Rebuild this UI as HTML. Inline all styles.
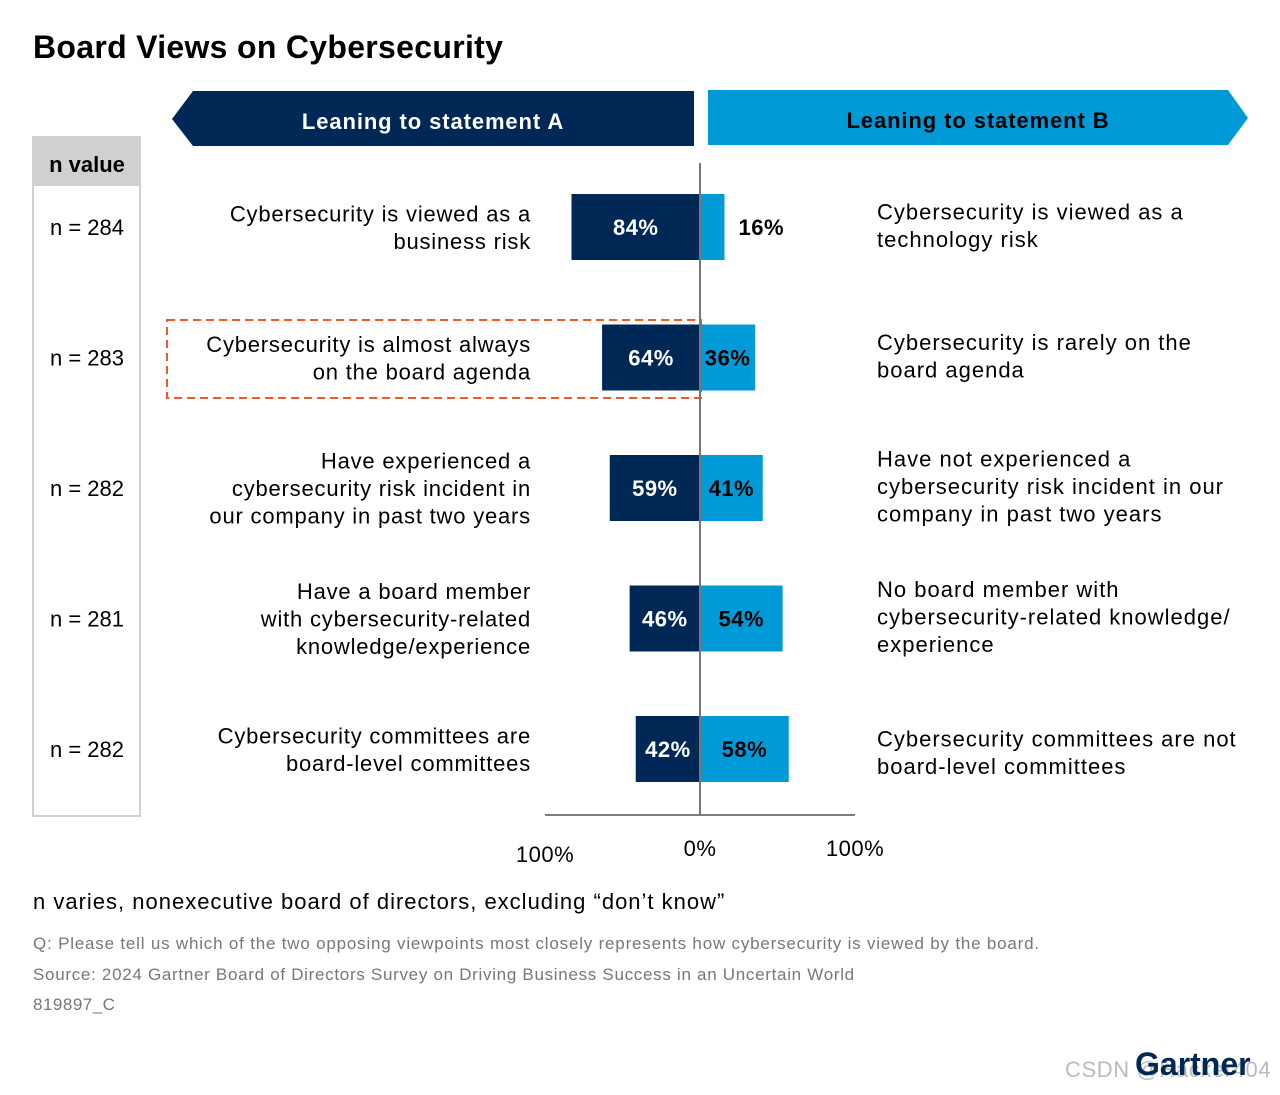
<!DOCTYPE html>
<html><head><meta charset="utf-8"><style>
body{margin:0;background:#fff;width:1280px;height:1090px;overflow:hidden;font-family:"Liberation Sans",sans-serif}
svg text{font-family:"Liberation Sans",sans-serif}
</style></head><body>
<svg id="chart" width="1280" height="1090" xmlns="http://www.w3.org/2000/svg">
<text x="33" y="58" font-size="32" font-weight="bold" letter-spacing="0.3" fill="#000">Board Views on Cybersecurity</text>
<polygon points="193,91 694,91 694,146 193,146 172,119" fill="#002856"/>
<text x="433" y="129" font-size="22" font-weight="bold" letter-spacing="0.9" fill="#fff" text-anchor="middle">Leaning to statement A</text>
<polygon points="708,90 1228,90 1248,118 1228,145 708,145" fill="#009ad9"/>
<text x="978" y="128" font-size="22" font-weight="bold" letter-spacing="0.9" fill="#000" text-anchor="middle">Leaning to statement B</text>
<rect x="33" y="137" width="107" height="679" fill="#fff" stroke="#d0d0d0" stroke-width="2"/>
<rect x="33" y="137" width="107" height="49" fill="#d0d0d0"/>
<text x="87" y="172" font-size="22" font-weight="bold" text-anchor="middle">n value</text>
<rect x="167" y="320" width="534" height="78" fill="none" stroke="#f05a28" stroke-width="2" stroke-dasharray="8,5"/>
<g id="bars"></g>
<line x1="545" y1="815" x2="855" y2="815" stroke="#555" stroke-width="1.5"/>
<line x1="700" y1="163" x2="700" y2="815" stroke="#777" stroke-width="2"/>
<g id="ticks"></g>
<text x="33" y="909" font-size="22" letter-spacing="1" fill="#000">n varies, nonexecutive board of directors, excluding “don’t know”</text>
<text x="33" y="949" font-size="17" letter-spacing="0.8" fill="#777">Q: Please tell us which of the two opposing viewpoints most closely represents how cybersecurity is viewed by the board.</text>
<text x="33" y="980" font-size="17" letter-spacing="0.7" fill="#777">Source: 2024 Gartner Board of Directors Survey on Driving Business Success in an Uncertain World</text>
<text x="33" y="1010" font-size="17" letter-spacing="0.5" fill="#777">819897_C</text>
<text x="1065" y="1077" font-size="22" fill="#bbb" letter-spacing="0.6">CSDN @Hacker404</text>
<text x="1135" y="1075" font-size="32" font-weight="bold" fill="#002856">Gartner</text>
</svg>
<script>
const nValues=["n = 284","n = 283","n = 282","n = 281","n = 282"];
const valuesA=[84,64,59,46,42];
const valuesB=[16,36,41,54,58];
const labelsA=[["Cybersecurity is viewed as a","business risk"],["Cybersecurity is almost always","on the board agenda"],["Have experienced a","cybersecurity risk incident in","our company in past two years"],["Have a board member","with cybersecurity-related","knowledge/experience"],["Cybersecurity committees are","board-level committees"]];
const labelsB=[["Cybersecurity is viewed as a","technology risk"],["Cybersecurity is rarely on the","board agenda"],["Have not experienced a","cybersecurity risk incident in our","company in past two years"],["No board member with","cybersecurity-related knowledge/","experience"],["Cybersecurity committees are not","board-level committees"]];
const tickVals=[-100,0,100];
const tickLabels=["100%","0%","100%"];
const NS="http://www.w3.org/2000/svg";
const cx=700, scale=1.53;
function x(v){return cx+v*scale;}
function rowY(i){return 227+i*130.5;}
function mk(tag,attrs,parent){const e=document.createElementNS(NS,tag);for(const k in attrs)e.setAttribute(k,attrs[k]);parent.appendChild(e);return e;}
const g=document.getElementById('bars');
valuesA.forEach((a,i)=>{
 const y=rowY(i), b=valuesB[i];
 const ra=mk('rect',{x:x(-a),y:y-33,width:x(0)-x(-a),height:66,fill:'#002856'},g);
 
 
 const rb=mk('rect',{x:x(0),y:y-33,width:x(b)-x(0),height:66,fill:'#009ad9'},g);
 
 
 const ta=mk('text',{x:(x(-a)+x(0))/2,y:y+8,'font-size':22,'font-weight':'bold','letter-spacing':0.5,fill:'#fff','text-anchor':'middle'},g);
 ta.textContent=a+'%';
 
 
 const wb=x(b)-x(0);
 const tb=mk('text',{x:wb<45?x(b)+14:(x(0)+x(b))/2,y:y+8,'font-size':22,'font-weight':'bold','letter-spacing':0.5,fill:'#000','text-anchor':wb<45?'start':'middle'},g);
 tb.textContent=b+'%';
 
 
 const n=mk('text',{x:87,y:y+8,'font-size':22,'text-anchor':'middle'},g);
 n.textContent=nValues[i];
 
 
 const la=labelsA[i], lb=labelsB[i];
 la.forEach((s,j)=>{const t=mk('text',{x:531,y:y+8+(j-(la.length-1)/2)*27.5,'font-size':22,'letter-spacing':0.8,'text-anchor':'end'},g);t.textContent=s;
  
  });
 lb.forEach((s,j)=>{const t=mk('text',{x:877,y:y+(i==4?3:-2)+8+(j-(lb.length-1)/2)*27.5,'font-size':22,'letter-spacing':1,'text-anchor':'start'},g);t.textContent=s;
  
  });
});
const tg=document.getElementById('ticks');
tickVals.forEach((v,i)=>{
 const t=mk('text',{x:v<0?545:(v==0?700:855),y:v<0?862:856,'font-size':22,'letter-spacing':0.5,'text-anchor':'middle'},tg);
 t.textContent=tickLabels[i];
 
 
});
</script>
</body></html>
